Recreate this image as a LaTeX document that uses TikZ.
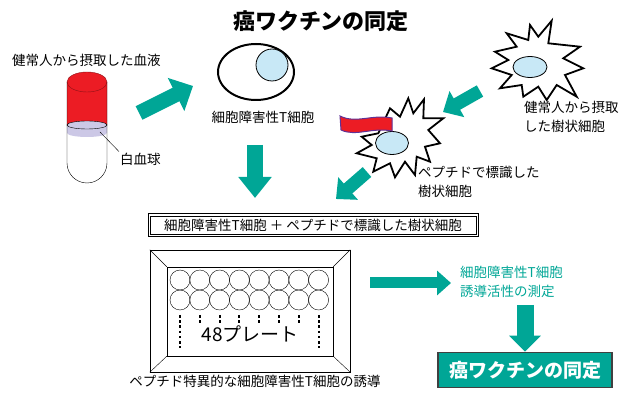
\documentclass[tikz,border=0pt]{standalone}
\usepackage{fontspec}
\setmainfont{Noto Sans CJK JP}
\usepackage{tikz}
\usetikzlibrary{shapes.geometric, positioning, arrows.meta}
\definecolor{verde}{RGB}{0,166,150}
\definecolor{celula}{RGB}{200,232,246}
\definecolor{leuco}{RGB}{204,200,230}
\definecolor{sangre}{RGB}{236,28,36}
\definecolor{morado}{RGB}{96,50,150}
\tikzset{
  texto/.style={font=\fontsize{13.5}{19}\selectfont, align=left, inner sep=1pt},
  flecha/.style n args={3}{verde, line width=#1, -{Triangle[length=#2, width=#3]}},
  nucleo/.style={ellipse, draw, fill=celula, line width=0.8pt, inner sep=0pt},
  dendrita/.style={draw, fill=white, line width=1.8pt, line join=miter}
}

\begin{document}
\begin{tikzpicture}[x=1pt, y=-1pt]
  \useasboundingbox (0,0) rectangle (625,393);
  % Titulo
  \node[font=\fontsize{22}{26}\selectfont\bfseries] (titulo) at (321,21) {癌ワクチンの同定};

  % Tubo con sangre
  \node[texto, anchor=west] (sangre) at (11,60) {健常人から摂取した血液};
  \fill[sangre] (67,82) -- (67,125) arc[start angle=180, end angle=0, x radius=20, y radius=4]
    -- (107,82) arc[start angle=0, end angle=-180, x radius=20, y radius=10] -- cycle;
  \fill[leuco] (67,125) -- (67,133) arc[start angle=180, end angle=0, x radius=20, y radius=4]
    -- (107,125) arc[start angle=0, end angle=-180, x radius=20, y radius=4] -- cycle;
  \draw[thin] (87,125) ellipse[x radius=20, y radius=4];
  \draw[thin, sangre!60!black] (87,82) ellipse[x radius=20, y radius=10];
  \draw[thin] (67,82) -- (67,163) arc[start angle=180, end angle=0, radius=20] -- (107,82);
  \coordinate (capa) at (100,132);
  \node[texto, anchor=west] (blancos) at (119,159) {白血球};
  \draw[thin] (capa) -- (blancos.north west);

  % Linfocito T
  \node[ellipse, draw, line width=2pt, minimum width=76pt, minimum height=56pt, inner sep=0pt] (linfo) at (256,72) {};
  \node[circle, draw, fill=celula, line width=0.8pt, minimum size=32pt, inner sep=0pt] (linfoN) at (272,65) {};
  \node[texto] (linfoT) at (263,117) {細胞障害性T細胞};

  % Celula dendritica del donante
  \filldraw[dendrita] (551.7,20.7) -- (548.3,43.3) -- (580,46.7) -- (563.3,58.3) -- (583.3,68.3)
    -- (565,75) -- (576.7,96.7) -- (556.7,85) -- (546.7,100) -- (538.3,86.7) -- (523.3,96.7)
    -- (521.7,85) -- (500,88.3) -- (511.7,75) -- (491.7,68.3) -- (508.3,60) -- (495,51.7)
    -- (516.7,46.7) -- (506.7,33.3) -- (528.3,40) -- (530,25) -- (538.3,36.7) -- cycle;
  \node[nucleo, minimum width=34pt, minimum height=21pt] (dc1N) at (530,67) {};
  \node[texto, anchor=north west] (dc1T) at (523,100) {健常人から摂取\\した樹状細胞};

  % Celula dendritica con peptido
  \filldraw[dendrita] (390,108.3) -- (400,116.7) -- (408.3,98.3) -- (413.3,113.3) -- (424,99.3)
    -- (423.3,118.3) -- (443.3,118.3) -- (428.3,130) -- (440,143.3) -- (425,146.7) -- (430,161.7)
    -- (416.7,156.7) -- (415,175) -- (405,161.7) -- (395,177.3) -- (390,163.3) -- (373.3,171.7)
    -- (376.7,158.3) -- (356.7,153.3) -- (371.7,145) -- (361.7,136.7) -- (378.3,133.3) -- cycle;
  \node[nucleo, minimum width=33pt, minimum height=23pt] (dc2N) at (392,143) {};
  \filldraw[fill=sangre, draw=morado, line width=1pt]
    (340,116) .. controls (356,124) and (372,114) .. (392,118) -- (392,131)
    .. controls (372,127) and (356,137) .. (341,130) -- cycle;
  \node[texto, anchor=north west] (dc2T) at (417,165) {ペプチドで標識した\\樹状細胞};

  % Mezcla
  \node[texto, minimum width=330pt, minimum height=23pt] (mezcla) at (313,225)
    {細胞障害性T細胞 ＋ ペプチドで標識した樹状細胞};
  \draw[thin] (mezcla.north west) rectangle (mezcla.south east);
  \draw[thin] ([shift={(2.5,2.5)}]mezcla.north west) rectangle ([shift={(-2.5,-2.5)}]mezcla.south east);

  % Placa de 48 pocillos
  \node[draw, thin, minimum width=200pt, minimum height=122pt] (placa) at (250,311) {};
  \node[draw, thin, minimum width=166pt, minimum height=89pt] (pocillos) at (250,311.5) {};
  \foreach \esq in {north west, north east, south west, south east}
    \draw[thin] (placa.\esq) -- (pocillos.\esq);
  \foreach \i in {0,...,7} {
    \draw[thin] (180+19.8*\i,280) circle[radius=10pt];
    \draw[thin] (180+19.8*\i,300) circle[radius=10pt];
  }
  \foreach \i in {1,...,6}
    \draw[line width=2pt, dash pattern=on 2.6pt off 2.6pt] (180+19.8*\i,315) -- (180+19.8*\i,325);
  \foreach \i in {0,7}
    \draw[line width=2pt, dash pattern=on 2.6pt off 2.6pt] (180+19.8*\i,315) -- (180+19.8*\i,348);
  \node[font=\fontsize{19}{22}\selectfont] (placaT) at (250,334) {48プレート};
  \node[texto] (induccion) at (255,381) {ペプチド特異的な細胞障害性T細胞の誘導};

  % Medicion y resultado
  \node[texto, text=verde, anchor=north west] (medida) at (459,265) {細胞障害性T細胞\\誘導活性の測定};
  \node[fill=verde, draw=black!75, line width=1.5pt, text=white, font=\fontsize{19}{22}\selectfont\bfseries,
    minimum width=174pt, minimum height=35pt] (resultado) at (525,370) {癌ワクチンの同定};

  % Flechas
  \coordinate (a1) at (139,113); \coordinate (b1) at (193,86);
  \coordinate (a2) at (255,145); \coordinate (b2) at (255,198);
  \coordinate (a3) at (480,91);  \coordinate (b3) at (443,112);
  \coordinate (a4) at (367,172); \coordinate (b4) at (336,199);
  \coordinate (a5) at (370,283); \coordinate (b5) at (451,283);
  \draw[flecha={15pt}{19pt}{36pt}] (a1) -- (b1);
  \draw[flecha={16pt}{21pt}{32pt}] (a2) -- (b2);
  \draw[flecha={13pt}{16pt}{29pt}] (a3) -- (b3);
  \draw[flecha={13pt}{16pt}{29pt}] (a4) -- (b4);
  \draw[flecha={11pt}{14pt}{24pt}] (a5) -- (b5);
  \draw[flecha={17pt}{16pt}{31pt}] (medida.south -| resultado) ++(0,6) -- (resultado.north);
\end{tikzpicture}
\end{document}
